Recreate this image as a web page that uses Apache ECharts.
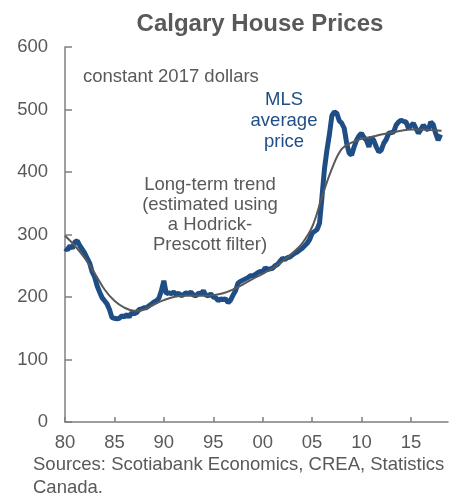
<!DOCTYPE html>
<html>
<head>
<meta charset="utf-8">
<script src="https://cdn.jsdelivr.net/npm/echarts@6/dist/echarts.min.js"></script>
<style>
  html, body { margin: 0; padding: 0; background: #fff; }
  #chart { width: 456px; height: 497px; }
</style>
</head>
<body>
<div id="chart"></div>
<script>
// quarterly MLS average price, constant 2017 dollars ($000s), from 1980 Q1
const mlsStart = 1980;
const mlsPrice = [
  278, 275, 282, 278,
  288, 290, 282, 276,
  270, 262, 254, 240,
  232, 218, 208, 199,
  194, 189, 180, 167,
  166, 165, 166, 170,
  168, 172, 168, 175,
  173, 175, 180, 181,
  183, 183, 186, 189,
  192, 194, 198, 210,
  226, 205, 207, 205,
  208, 204, 206, 202,
  204, 207, 205, 208,
  203, 202, 206, 205,
  210, 203, 202, 205,
  200, 199, 194, 197,
  196, 197, 191, 195,
  203, 210, 222, 225,
  227, 229, 231, 234,
  234, 236, 239, 241,
  240, 247, 244, 245,
  246, 250, 252, 257,
  262, 260, 263, 264,
  267, 270, 272, 275,
  278, 282, 286, 292,
  302, 305, 308, 318,
  360, 405, 435, 460,
  490, 496, 494, 482,
  478, 470, 446, 430,
  427, 440, 451, 458,
  462, 455, 451, 440,
  456, 450, 440, 432,
  435, 446, 452, 462,
  463, 464, 475, 480,
  483, 481, 480, 470,
  474, 478, 470, 462,
  468, 475, 470, 467,
  480, 476, 462, 451,
  460
];

// Hodrick-Prescott trend, annual
const trendYears = [1980, 1981, 1982, 1983, 1984, 1985, 1986, 1987, 1988, 1989,
  1990, 1991, 1992, 1993, 1994, 1995, 1996, 1997, 1998, 1999,
  2000, 2001, 2002, 2003, 2004, 2005, 2006, 2007, 2008, 2009,
  2010, 2011, 2012, 2013, 2014, 2015, 2016, 2017, 2018.1];
const trendPrice = [298, 282, 262, 238, 212, 194, 183, 178, 180, 188,
  195, 200, 202, 202, 202, 203, 206, 212, 220, 229,
  237, 246, 257, 270, 286, 312, 360, 405, 437, 447,
  453, 456, 460, 463, 466, 468, 468, 467, 466];

const xTicks = [1980, 1985, 1990, 1995, 2000, 2005, 2010, 2015];

const mlsData = mlsPrice.map((v, i) => [mlsStart + i / 4, v]);
const trendData = trendYears.map((y, i) => [y, trendPrice[i]]);

const chart = echarts.init(document.getElementById('chart'));
const grey = '#595959';
const axisGrey = '#7f7f7f';
const blue = '#1f4e87';
const font = 'Liberation Sans';

chart.setOption({
  animation: false,
  title: {
    text: 'Calgary House Prices',
    left: 255, top: 7, textAlign: 'center',
    textStyle: { fontFamily: font, fontSize: 24, fontWeight: 'bold', color: grey }
  },
  grid: { left: 65, right: 8, top: 47, bottom: 75 },
  xAxis: {
    type: 'value', min: 1980, max: 2018.75,
    axisLine: { show: true, lineStyle: { color: axisGrey, width: 1.5 } },
    axisTick: { show: true, inside: true, length: 5, customValues: xTicks, lineStyle: { color: axisGrey, width: 1.5 } },
    axisLabel: {
      customValues: xTicks, margin: 11,
      fontFamily: font, fontSize: 18.5, color: grey,
      formatter: v => String(v % 100).padStart(2, '0')
    },
    splitLine: { show: false }
  },
  yAxis: {
    type: 'value', min: 0, max: 600, interval: 100,
    axisLine: { show: true, lineStyle: { color: axisGrey, width: 1.5 } },
    axisTick: { show: true, inside: true, length: 7, lineStyle: { color: axisGrey, width: 1.5 } },
    axisLabel: { margin: 17, fontFamily: font, fontSize: 18.5, color: grey },
    splitLine: { show: false }
  },
  series: [
    {
      name: 'MLS average price', type: 'line', data: mlsData,
      showSymbol: false, lineStyle: { color: blue, width: 5 }, z: 2
    },
    {
      name: 'Long-term trend', type: 'line', data: trendData, smooth: 0.4,
      showSymbol: false, lineStyle: { color: grey, width: 2 }, z: 3
    }
  ],
  graphic: [
    { type: 'text', x: 83, y: 77,
      style: { text: 'constant 2017 dollars', verticalAlign: 'middle',
        fontFamily: font, fontSize: 18.5, fill: grey } },
    { type: 'text', x: 284, y: 89.5,
      style: { text: 'MLS\naverage\nprice', align: 'center', verticalAlign: 'top', lineHeight: 21,
        fontFamily: font, fontSize: 18.5, fill: blue } },
    { type: 'text', x: 210, y: 175,
      style: { text: 'Long-term trend\n(estimated using\na Hodrick-\nPrescott filter)', align: 'center',
        verticalAlign: 'top', lineHeight: 20, fontFamily: font, fontSize: 18.5, fill: grey } },
    { type: 'text', x: 33, y: 454,
      style: { text: 'Sources: Scotiabank Economics, CREA, Statistics\nCanada.', verticalAlign: 'top',
        lineHeight: 22.5, fontFamily: font, fontSize: 18.5, fill: grey } }
  ]
});
</script>
</body>
</html>
